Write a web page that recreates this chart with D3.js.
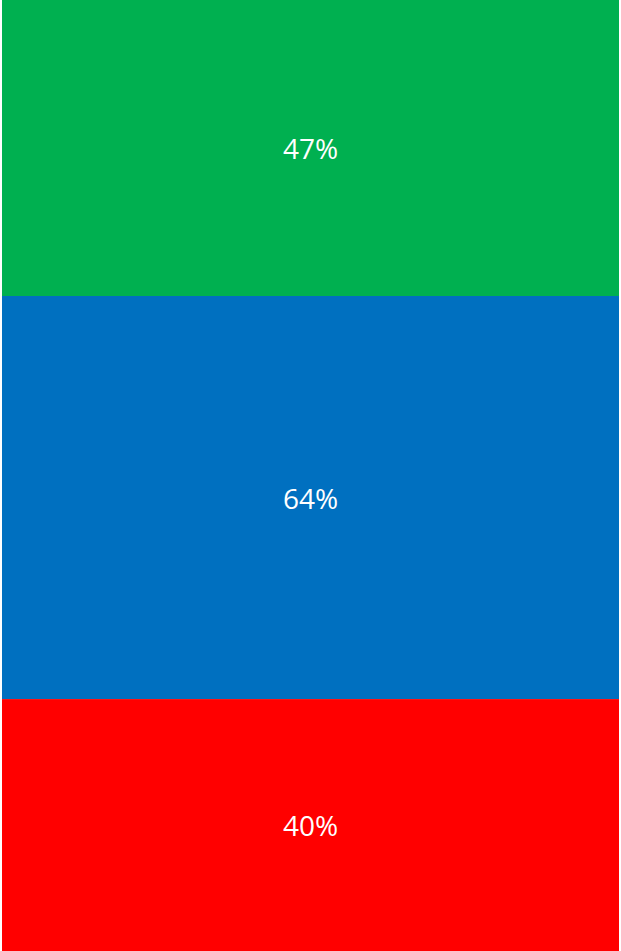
<!DOCTYPE html>
<html>
<head>
<meta charset="utf-8">
<script src="https://cdn.jsdelivr.net/npm/d3@7"></script>
<style>
  html, body { margin: 0; padding: 0; background: #ffffff; }
  svg { display: block; }
</style>
</head>
<body>
<div id="chart"></div>
<script>
// Stacked segments, top to bottom
const categories = ["A", "B", "C"];
const values = [47, 64, 40];
const colors = ["#00B050", "#0070C0", "#FF0000"];
const labels = ["47%", "64%", "40%"];

const width = 621, height = 951;
const margin = { top: 0, right: 2, bottom: 0, left: 2 };

const svg = d3.select("#chart").append("svg")
  .attr("width", width)
  .attr("height", height);

const total = d3.sum(values);
const y = d3.scaleLinear()
  .domain([0, total])
  .range([margin.top, height - margin.bottom]);

const x = d3.scaleBand()
  .domain(["bar"])
  .range([margin.left, width - margin.right])
  .padding(0);

const starts = d3.cumsum([0, ...values.slice(0, -1)]);
const data = categories.map((c, i) => ({
  cat: c, value: values[i], start: starts[i], color: colors[i], label: labels[i]
}));

const g = svg.append("g");

g.selectAll("rect.seg")
  .data(data)
  .join("rect")
  .attr("class", "seg")
  .attr("x", x("bar"))
  .attr("width", x.bandwidth())
  .attr("y", d => y(d.start))
  .attr("height", d => y(d.start + d.value) - y(d.start))
  .attr("fill", d => d.color);

g.selectAll("text.lbl")
  .data(data)
  .join("text")
  .attr("class", "lbl")
  .attr("x", x("bar") + x.bandwidth() / 2)
  .attr("y", d => y(d.start + d.value / 2))
  .attr("text-anchor", "middle")
  .attr("dominant-baseline", "central")
  .attr("font-family", "'Open Sans', sans-serif")
  .attr("font-size", 28)
  .attr("fill", "#ffffff")
  .text(d => d.label);
</script>
</body>
</html>
